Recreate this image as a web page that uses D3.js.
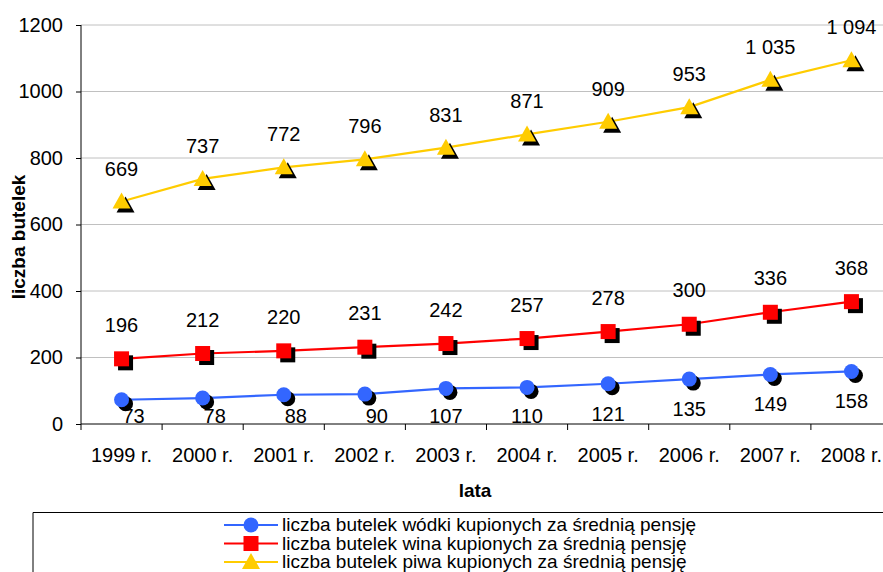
<!DOCTYPE html>
<html>
<head>
<meta charset="utf-8">
<script src="https://cdn.jsdelivr.net/npm/d3@7"></script>
<style>
  body { margin: 0; background: #fff; }
  text { font-family: "Liberation Sans", Arial, sans-serif; }
</style>
</head>
<body>
<div id="viz"></div>
<script>
const width = 883, height = 572;

const years = ["1999 r.", "2000 r.", "2001 r.", "2002 r.", "2003 r.", "2004 r.", "2005 r.", "2006 r.", "2007 r.", "2008 r."];
const vodka = [73, 78, 88, 90, 107, 110, 121, 135, 149, 158];
const wine = [196, 212, 220, 231, 242, 257, 278, 300, 336, 368];
const beer = [669, 737, 772, 796, 831, 871, 909, 953, 1035, 1094];
const yTicks = [0, 200, 400, 600, 800, 1000, 1200];

const seriesNames = [
  "liczba butelek wódki kupionych za średnią pensję",
  "liczba butelek wina kupionych za średnią pensję",
  "liczba butelek piwa kupionych za średnią pensję"
];
const series = [
  { name: seriesNames[0], values: vodka, color: "#3366FF", shape: "circle", labelDy: 37 },
  { name: seriesNames[1], values: wine, color: "#FF0000", shape: "square", labelDy: -27 },
  { name: seriesNames[2], values: beer, color: "#FFCC00", shape: "triangle", labelDy: -26 }
];

const svg = d3.select("#viz").append("svg")
  .attr("width", width)
  .attr("height", height);

const x = d3.scaleBand().domain(years).range([81, 892]);
const y = d3.scaleLinear().domain([0, 1200]).range([424, 25]);
const cx = d => x(d) + x.bandwidth() / 2;

// gridlines
svg.append("g")
  .selectAll("line")
  .data(yTicks.filter(d => d > 0))
  .enter().append("line")
  .attr("x1", 81).attr("x2", width)
  .attr("y1", d => y(d)).attr("y2", d => y(d))
  .attr("stroke", "#c0c0c0").attr("stroke-width", 1);

// y axis
const yAxis = svg.append("g")
  .attr("transform", "translate(81,0)")
  .call(d3.axisLeft(y).tickValues(yTicks).tickSize(5).tickPadding(13).tickFormat(d3.format("d")));
yAxis.selectAll("text").attr("font-size", "20px").attr("fill", "#000").attr("font-family", "Liberation Sans, Arial, sans-serif");
yAxis.selectAll("line, path").attr("stroke", "#000");
yAxis.select("path").attr("d", "M0,25V424");

// x axis
const xAxis = svg.append("g").attr("transform", "translate(0,424)");
xAxis.append("line").attr("x1", 81).attr("x2", width).attr("y1", 0).attr("y2", 0).attr("stroke", "#000");
xAxis.selectAll(".tk")
  .data(years)
  .enter().append("line")
  .attr("x1", d => x(d)).attr("x2", d => x(d))
  .attr("y1", 0).attr("y2", 6)
  .attr("stroke", "#000");
xAxis.selectAll("text")
  .data(years)
  .enter().append("text")
  .attr("x", d => cx(d))
  .attr("y", 38)
  .attr("text-anchor", "middle")
  .attr("font-size", "20px")
  .text(d => d);

// axis titles
svg.append("text")
  .attr("x", 475).attr("y", 497)
  .attr("text-anchor", "middle")
  .attr("font-size", "19px").attr("font-weight", "bold")
  .text("lata");
svg.append("text")
  .attr("transform", "translate(25,237) rotate(-90)")
  .attr("text-anchor", "middle")
  .attr("font-size", "19px").attr("font-weight", "bold")
  .text("liczba butelek");

function marker(g, shape, color, px, py) {
  if (shape === "circle") {
    g.append("circle").attr("cx", px).attr("cy", py).attr("r", 7.5).attr("fill", color);
  } else if (shape === "square") {
    g.append("rect").attr("x", px - 7.5).attr("y", py - 7.5).attr("width", 15).attr("height", 15).attr("fill", color);
  } else {
    g.append("path").attr("d", `M${px},${py - 9}L${px + 9},${py + 7}L${px - 9},${py + 7}Z`).attr("fill", color);
  }
}

const fmt = v => v >= 1000 ? Math.floor(v / 1000) + " " + String(v % 1000).padStart(3, "0") : String(v);

series.forEach(s => {
  const g = svg.append("g");
  const line = d3.line().x((d, i) => cx(years[i])).y(d => y(d));
  g.append("path")
    .attr("d", line(s.values))
    .attr("fill", "none")
    .attr("stroke", s.color)
    .attr("stroke-width", 2.2);
  // shadow markers
  s.values.forEach((v, i) => marker(g, s.shape, "#000", cx(years[i]) + 4, y(v) + 4));
  s.values.forEach((v, i) => marker(g, s.shape, s.color, cx(years[i]), y(v)));
  g.selectAll("text")
    .data(s.values)
    .enter().append("text")
    .attr("x", (d, i) => cx(years[i]) + (d < 100 ? 12 : 0))
    .attr("y", d => Math.min(y(d) + s.labelDy, 423))
    .attr("text-anchor", "middle")
    .attr("font-size", "20px")
    .text(d => fmt(d));
});

// legend
const legend = svg.append("g");
legend.append("path")
  .attr("d", `M33,${height}V512.5H${width}`)
  .attr("fill", "none").attr("stroke", "#000").attr("stroke-width", 1);
series.forEach((s, i) => {
  const ly = 525 + i * 18.5;
  legend.append("line")
    .attr("x1", 224).attr("x2", 278).attr("y1", ly).attr("y2", ly)
    .attr("stroke", s.color).attr("stroke-width", 2.2);
  marker(legend, s.shape, s.color, 251, ly);
  legend.append("text")
    .attr("x", 282).attr("y", ly + 6)
    .attr("font-size", "19px")
    .text(s.name);
});
</script>
</body>
</html>
